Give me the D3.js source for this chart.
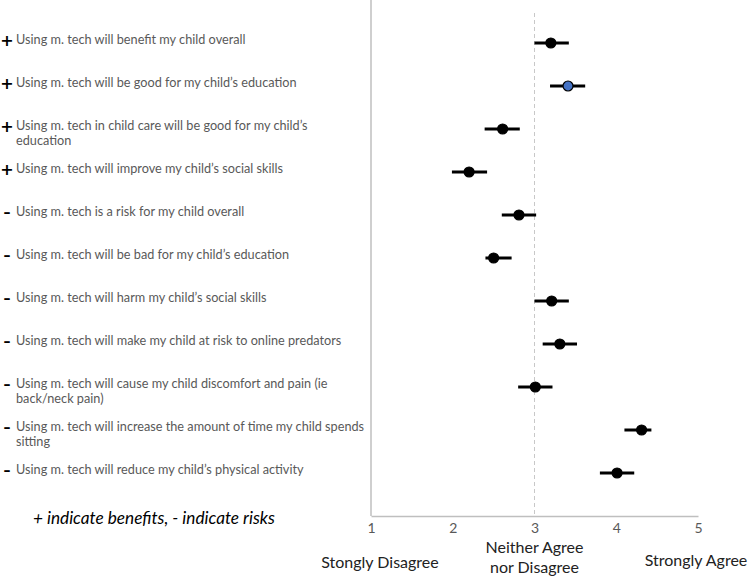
<!DOCTYPE html>
<html><head><meta charset="utf-8">
<script src="https://cdn.jsdelivr.net/npm/d3@7"></script>
<style>body{margin:0;background:#fff;} svg{display:block;}</style>
</head><body>
<script>
const categories = [
  "Using m. tech will benefit my child overall",
  "Using m. tech will be good for my child\u2019s education",
  "Using m. tech in child care will be good for my child\u2019s|education",
  "Using m. tech will improve my child\u2019s social skills",
  "Using m. tech is a risk for my child overall",
  "Using m. tech will be bad for my child\u2019s education",
  "Using m. tech will harm my child\u2019s social skills",
  "Using m. tech will make my child at risk to online predators",
  "Using m. tech will cause my child discomfort and pain (ie|back/neck pain)",
  "Using m. tech will increase the amount of time my child spends|sitting",
  "Using m. tech will reduce my child\u2019s physical activity"
];
const signs = ["+","+","+","+","-","-","-","-","-","-","-"];
const means = [3.20, 3.41, 2.61, 2.20, 2.81, 2.50, 3.21, 3.31, 3.01, 4.31, 4.01];
const lows  = [3.00, 3.19, 2.39, 1.99, 2.60, 2.40, 3.00, 3.10, 2.80, 4.10, 3.80];
const highs = [3.42, 3.62, 2.82, 2.42, 3.02, 2.72, 3.42, 3.52, 3.22, 4.43, 4.22];
const highlighted = [false, true, false, false, false, false, false, false, false, false, false];
const xTicks = [1, 2, 3, 4, 5];
const midline = 3;

const W = 749, H = 579;
const svg = d3.select("body").append("svg").attr("width", W).attr("height", H);

const x = d3.scaleLinear().domain([1, 5]).range([371, 698]);
const y = d3.scalePoint().domain(d3.range(categories.length)).range([43, 473]);

const axisColor = "#bfbfbf";
svg.append("line").attr("x1", 371).attr("x2", 371).attr("y1", 0).attr("y2", 516)
  .attr("stroke", axisColor).attr("stroke-width", 1.5);
const xAxis = d3.axisBottom(x).tickValues(xTicks).tickSize(0).tickPadding(7).tickFormat(d3.format("d"));
const gx = svg.append("g").attr("transform", "translate(0,516)").call(xAxis);
gx.select(".domain").attr("stroke", axisColor).attr("stroke-width", 1.5);
gx.selectAll("text").attr("fill", "#595959").style("font-family", "Lato, sans-serif").style("font-size", "14px");

svg.append("line").attr("x1", x(midline)).attr("x2", x(midline)).attr("y1", 13).attr("y2", 516)
  .attr("stroke", "#c8c8c8").attr("stroke-width", 1).attr("stroke-dasharray", "4,3");

const idx = d3.range(categories.length);
svg.append("g").selectAll("line").data(idx).join("line")
  .attr("x1", i => x(lows[i])).attr("x2", i => x(highs[i]))
  .attr("y1", i => y(i)).attr("y2", i => y(i))
  .attr("stroke", "#000").attr("stroke-width", 3);
svg.append("g").selectAll("circle").data(idx).join("circle")
  .attr("cx", i => x(means[i])).attr("cy", i => y(i)).attr("r", 5)
  .attr("fill", i => highlighted[i] ? "#4472c4" : "#000")
  .attr("stroke", "#000").attr("stroke-width", 1.2);

const lg = svg.append("g").style("font-family", "Lato, sans-serif").style("font-size", "12.7px").attr("fill", "#595959");
idx.forEach(i => {
  const lines = categories[i].split("|");
  const t = lg.append("text").attr("x", 16).attr("y", y(i) - 2.5).attr("dominant-baseline", "middle");
  lines.forEach((ln, k) => {
    t.append("tspan").attr("x", 16).attr("dy", k === 0 ? 0 : 15.5).text(ln);
  });
});
svg.append("g").selectAll("text").data(idx).join("text")
  .attr("x", 7)
  .attr("y", i => y(i) - 2)
  .attr("text-anchor", "middle").attr("dominant-baseline", "middle")
  .style("font-family", "DejaVu Sans, sans-serif").style("font-weight", "bold")
  .style("font-size", i => signs[i] === "+" ? "16px" : "14px")
  .attr("fill", "#000")
  .text(i => signs[i] === "+" ? "+" : "\u2013");

svg.append("text").attr("x", 33).attr("y", 520).attr("dominant-baseline", "middle")
  .style("font-family", "Lato, sans-serif").style("font-style", "italic").style("font-size", "17.2px")
  .attr("fill", "#000").text("+ indicate benefits, - indicate risks");

const anchorG = svg.append("g").style("font-family", "Lato, sans-serif").style("font-size", "16px").attr("fill", "#222").attr("text-anchor", "middle");
anchorG.append("text").attr("x", 380).attr("y", 564).attr("dominant-baseline", "middle").text("Stongly Disagree");
anchorG.append("text").attr("x", x(3)).attr("y", 549).attr("dominant-baseline", "middle").text("Neither Agree");
anchorG.append("text").attr("x", x(3)).attr("y", 569).attr("dominant-baseline", "middle").text("nor Disagree");
anchorG.append("text").attr("x", 696).attr("y", 562).attr("dominant-baseline", "middle").text("Strongly Agree");
</script>
</body></html>
